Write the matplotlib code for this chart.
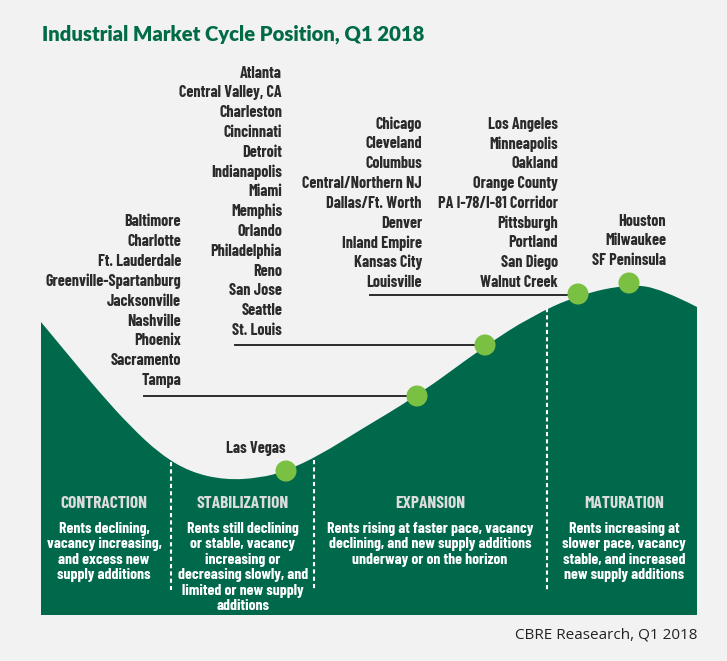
import matplotlib
matplotlib.use("Agg")
import matplotlib.pyplot as plt
from matplotlib.path import Path
from matplotlib.patches import PathPatch

COND = ['Barlow Condensed', 'Roboto Condensed', 'Liberation Sans Narrow', 'DejaVu Sans']

# ---- data ----
group_a = ['Baltimore', 'Charlotte', 'Ft. Lauderdale', 'Greenville-Spartanburg',
           'Jacksonville', 'Nashville', 'Phoenix', 'Sacramento', 'Tampa']
group_b = ['Atlanta', 'Central Valley, CA', 'Charleston', 'Cincinnati', 'Detroit',
           'Indianapolis', 'Miami', 'Memphis', 'Orlando', 'Philadelphia', 'Reno',
           'San Jose', 'Seattle', 'St. Louis']
group_c = ['Chicago', 'Cleveland', 'Columbus', 'Central/Northern NJ', 'Dallas/Ft. Worth',
           'Denver', 'Inland Empire', 'Kansas City', 'Louisville']
group_d = ['Los Angeles', 'Minneapolis', 'Oakland', 'Orange County', 'PA I-78/I-81 Corridor',
           'Pittsburgh', 'Portland', 'San Diego', 'Walnut Creek']
group_e = ['Houston', 'Milwaukee', 'SF Peninsula']
group_f = ['Las Vegas']

phases = ['CONTRACTION', 'STABILIZATION', 'EXPANSION', 'MATURATION']
phase_text = [
    'Rents declining,\nvacancy increasing,\nand excess new\nsupply additions',
    'Rents still declining\nor stable, vacancy\nincreasing or\ndecreasing slowly, and\nlimited or new supply\nadditions',
    'Rents rising at faster pace, vacancy\ndeclining, and new supply additions\nunderway or on the horizon',
    'Rents increasing at\nslower pace, vacancy\nstable, and increased\nnew supply additions',
]

# cycle curve outline (pixel space) and market positions on it
curve_x = [41, 70, 100, 130, 160, 190, 225, 260, 286, 320, 360, 417, 485, 530, 578, 629, 662, 697]
curve_y = [322, 357, 393, 426, 454, 472, 480, 478, 471, 455, 430, 396, 346, 317, 295, 284, 289, 307]
dot_x = [286, 417, 485, 578, 629]
dot_y = [471, 396, 345, 294, 283]

GREEN = '#00694b'
LIME = '#7ac143'
DARK = '#2b2b2b'

fig = plt.figure(figsize=(7.27, 6.61), dpi=100, facecolor='#f2f2f2')
ax = fig.add_axes([0, 0, 1, 1])
ax.set_xlim(0, 727)
ax.set_ylim(661, 0)
ax.axis('off')

# green hill
bottom = 615
verts = [(curve_x[0], bottom), (curve_x[0], curve_y[0])]
codes = [Path.MOVETO, Path.LINETO]
pts = list(zip(curve_x, curve_y))
for i in range(1, len(pts) - 1):
    mid = ((pts[i][0] + pts[i + 1][0]) / 2, (pts[i][1] + pts[i + 1][1]) / 2)
    if i == len(pts) - 2:
        mid = pts[-1]
    verts += [pts[i], mid]
    codes += [Path.CURVE3, Path.CURVE3]
verts += [(curve_x[-1], bottom), (curve_x[0], bottom)]
codes += [Path.LINETO, Path.CLOSEPOLY]
ax.add_patch(PathPatch(Path(verts, codes), facecolor=GREEN, edgecolor='none', zorder=1))

# dashed separators
for x, top in [(171, 462), (314, 460), (547, 308)]:
    ax.plot([x, x], [top, 590], color='white', lw=1.5, ls=(0, (2, 1.5)), zorder=2)

# city lists
def city_list(names, xr, y0, step=19.8):
    for i, n in enumerate(names):
        ax.text(xr, y0 + i * step, n, ha='right', va='center', fontsize=11.6,
                family=COND, fontweight='bold', color=DARK, zorder=5)

city_list(group_a, 181, 222)
city_list(group_b, 282, 73)
city_list(group_c, 422, 124)
city_list(group_d, 558, 124)
city_list(group_e, 666, 221)
city_list(group_f, 286, 449)

# leader lines
for x0, x1, y in [(144, 417, 396), (235, 485, 345), (370, 578, 295)]:
    ax.plot([x0, x1], [y, y], color=DARK, lw=1.4, zorder=3)

ax.scatter(dot_x, dot_y, s=230, color=LIME, edgecolors='none', zorder=6)

# phase labels
phase_x = [104, 243, 430, 624]
for x, p, t in zip(phase_x, phases, phase_text):
    ax.text(x, 503, p, ha='center', va='center', fontsize=12.5, family=COND,
            fontweight='bold', color='#dcdcdc', zorder=5)
    ax.text(x, 522, t, ha='center', va='top', fontsize=11.3, family=COND,
            fontweight='bold', color='white', linespacing=1.13, zorder=5)

ax.text(42, 34, 'Industrial Market Cycle Position, Q1 2018', ha='left', va='center',
        fontsize=14.6, fontweight='heavy', color='#006b45',
        family=['Lato', 'DejaVu Sans'])
ax.text(697, 635, 'CBRE Reasearch, Q1 2018', ha='right', va='center', fontsize=11,
        color='#222222', family=['Open Sans', 'DejaVu Sans'])

fig.savefig('out.png', dpi=100, facecolor=fig.get_facecolor())
